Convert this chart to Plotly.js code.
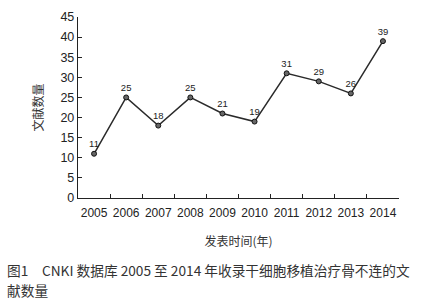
<!DOCTYPE html>
<html>
<head>
<meta charset="utf-8">
<script src="https://cdn.plot.ly/plotly-3.0.1.min.js"></script>
<style>html,body{margin:0;padding:0;background:#fff;}#chart{width:425px;height:300px;}</style>
</head>
<body>
<div id="chart"></div>
<script>
const years = ['2005','2006','2007','2008','2009','2010','2011','2012','2013','2014'];
const counts = [11, 25, 18, 25, 21, 19, 31, 29, 26, 39];
const yTicks = [0, 5, 10, 15, 20, 25, 30, 35, 40, 45];
const xTitle = '发表时间(年)';
const yTitle = '文献数量';
const captionLine1 = '图1　CNKI 数据库 2005 至 2014 年收录干细胞移植治疗骨不连的文';
const captionLine2 = '献数量';

const font = 'Liberation Sans, Arial, Noto Sans CJK SC, sans-serif';
const cjk = 'Noto Sans CJK SC, sans-serif';

const trace = {
  x: years, y: counts, type: 'scatter', mode: 'lines+markers+text',
  text: counts.map(String), textposition: 'top center',
  textfont: {family: font, size: 9.5, color: '#222'},
  line: {color: '#2a2a2a', width: 1.5},
  marker: {size: 5, color: '#666', line: {color: '#111', width: 1}},
  cliponaxis: false, hoverinfo: 'skip'
};

const layout = {
  width: 425, height: 300,
  margin: {l: 78, r: 26, t: 17, b: 102},
  paper_bgcolor: '#fff', plot_bgcolor: '#fff',
  showlegend: false,
  font: {family: font, size: 12, color: '#222'},
  xaxis: {
    type: 'category', range: [-0.5, 9.5], tickson: 'boundaries',
    ticks: 'inside', ticklen: 4, tickcolor: '#222', tickwidth: 1,
    showline: true, linecolor: '#222', linewidth: 1.2,
    showgrid: false, zeroline: false, tickangle: 0, ticklabelstandoff: 3,
    tickfont: {family: font, size: 12, color: '#222'},
    title: {text: xTitle, font: {family: cjk, size: 12, color: '#333'}, standoff: 19}
  },
  yaxis: {
    range: [0, 45], tickvals: yTicks, ticktext: yTicks.map(String),
    ticks: 'inside', ticklen: 4, tickcolor: '#222', tickwidth: 1,
    showline: true, linecolor: '#222', linewidth: 1.2,
    showgrid: false, zeroline: false,
    tickfont: {family: font, size: 12.5, color: '#222'},
    title: {text: yTitle, font: {family: cjk, size: 12, color: '#333'}, standoff: 14}
  },
  annotations: [
    {text: captionLine1, xref: 'paper', yref: 'paper', x: -0.227, y: -0.398,
     xanchor: 'left', yanchor: 'middle', align: 'left', showarrow: false,
     font: {family: cjk, size: 13.7, color: '#333'}},
    {text: captionLine2, xref: 'paper', yref: 'paper', x: -0.227, y: -0.508,
     xanchor: 'left', yanchor: 'middle', align: 'left', showarrow: false,
     font: {family: cjk, size: 13.7, color: '#333'}}
  ]
};

Plotly.newPlot('chart', [trace], layout, {staticPlot: true, displayModeBar: false});
</script>
</body>
</html>
